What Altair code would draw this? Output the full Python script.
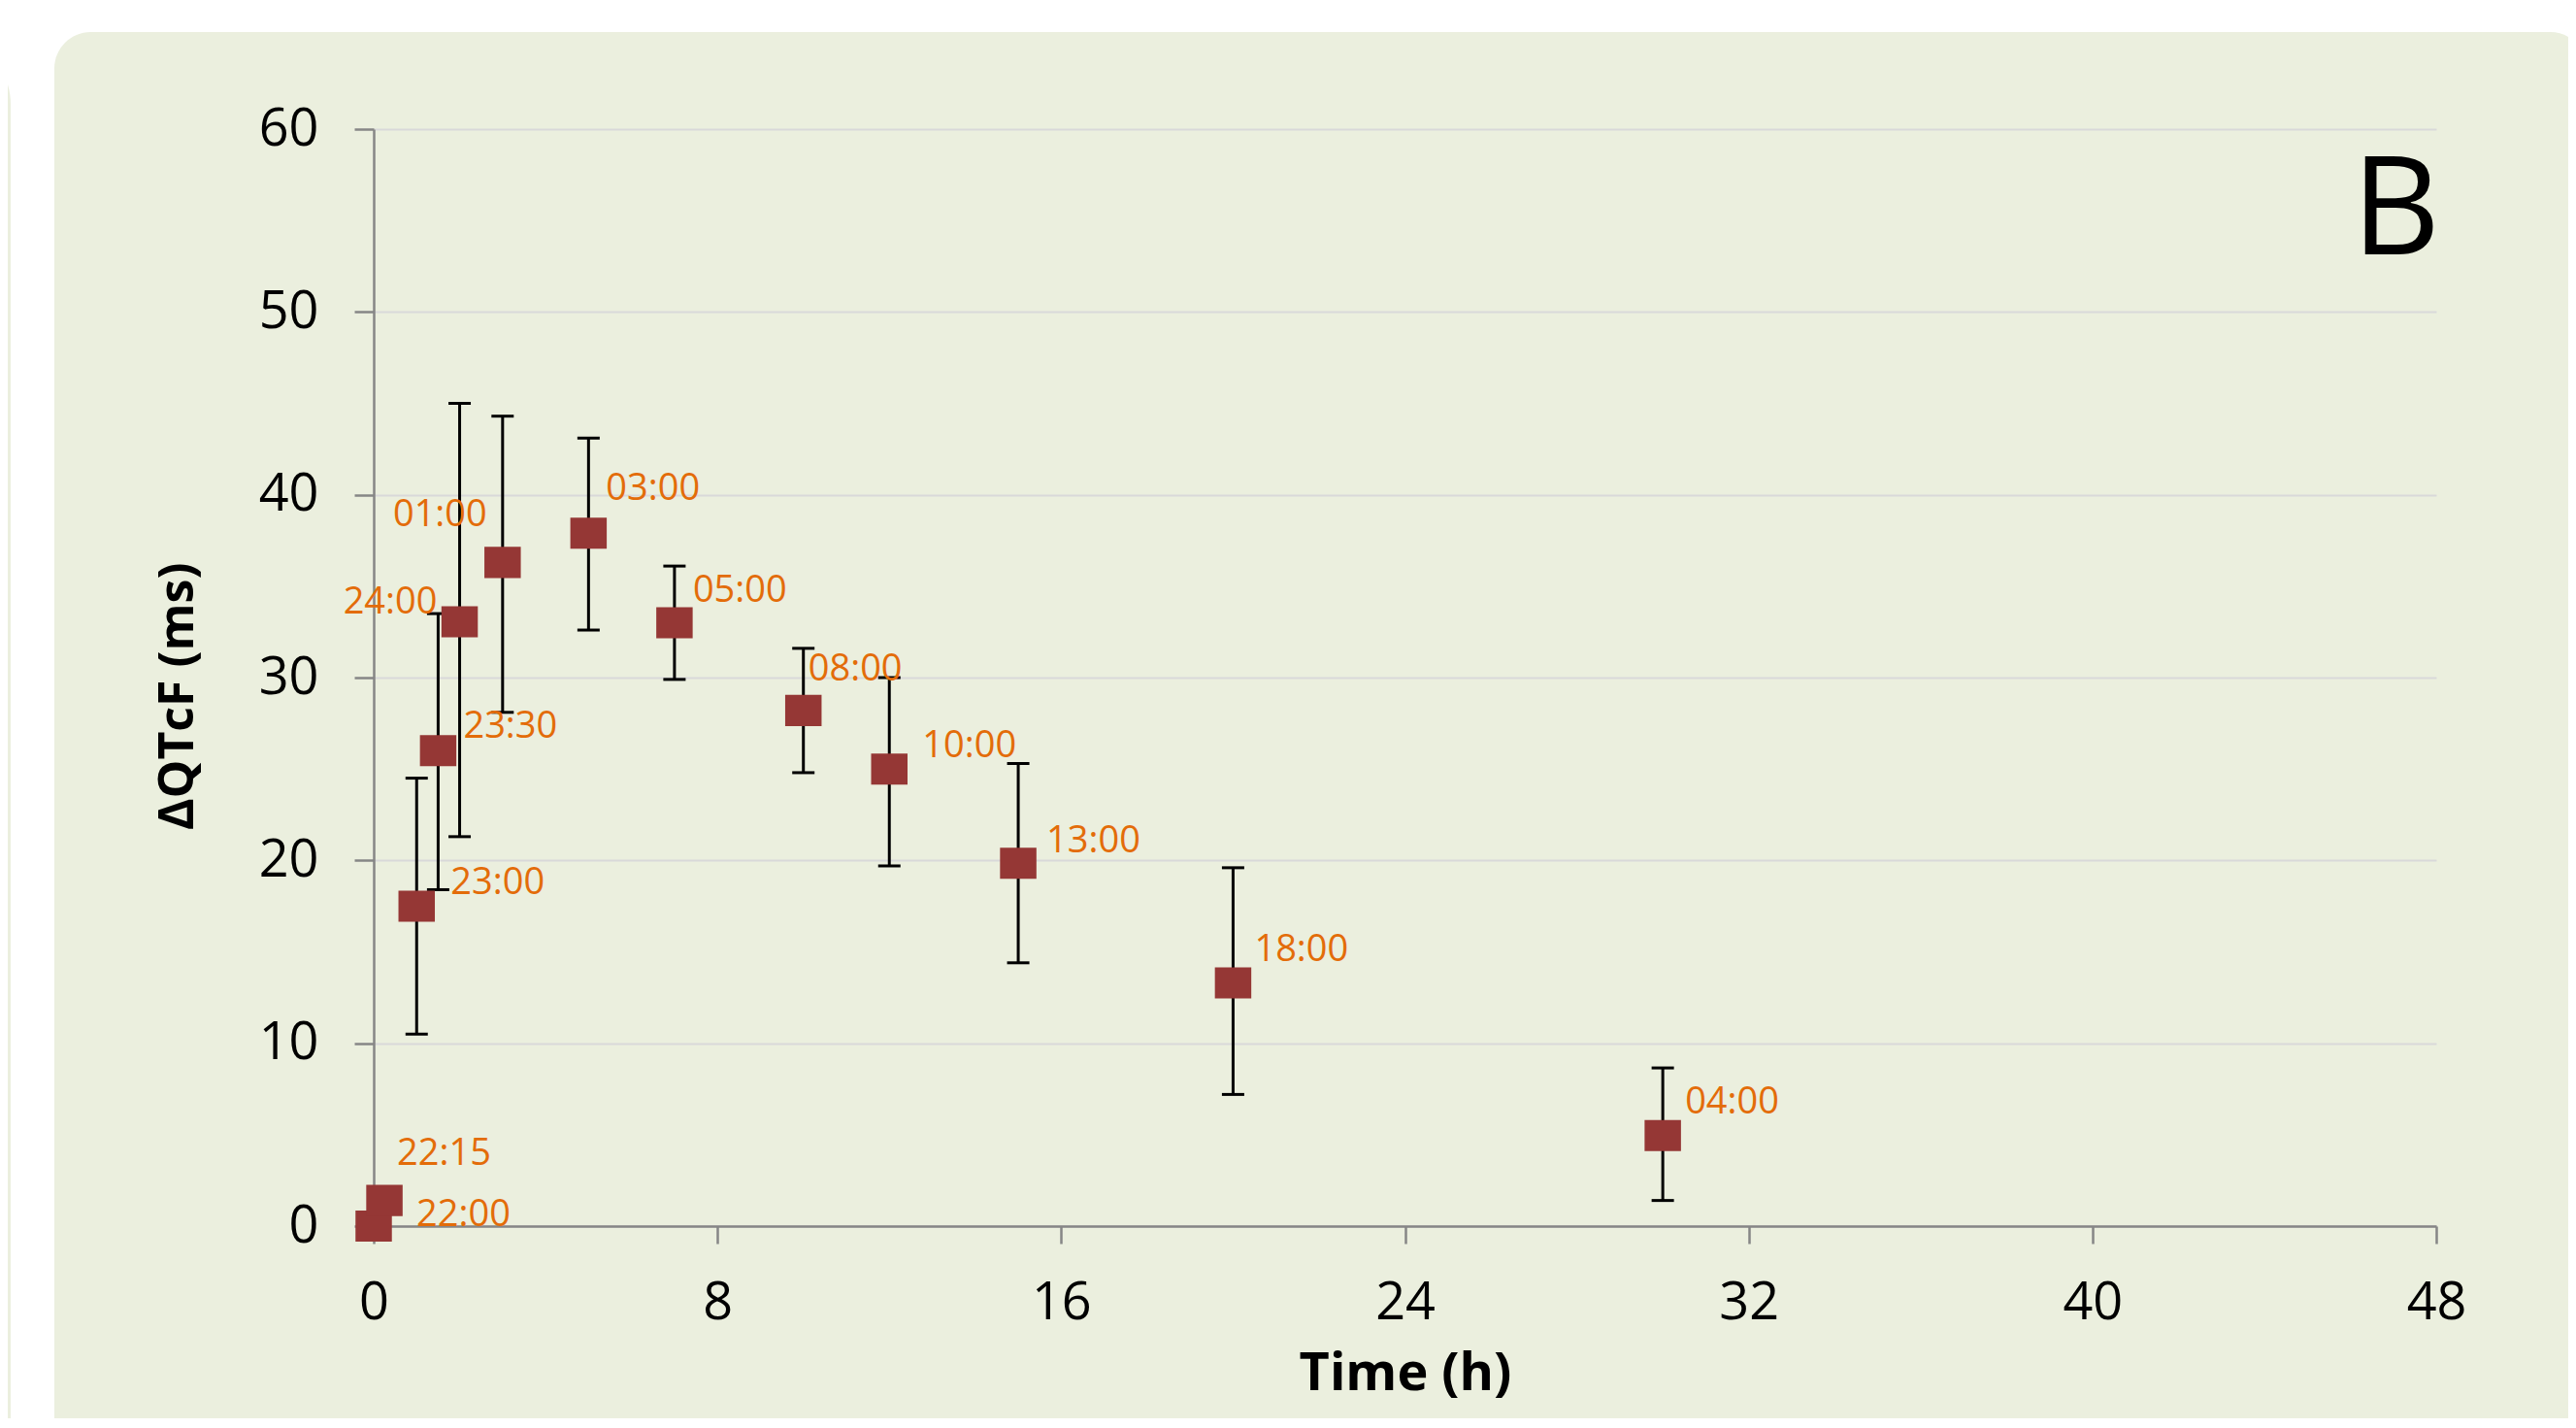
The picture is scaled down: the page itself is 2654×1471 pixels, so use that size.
import altair as alt
import pandas as pd

# ---- data ----
time_h = [0, 0.25, 1, 1.5, 2, 3, 5, 7, 10, 12, 15, 20, 30]
clock = ["22:00", "22:15", "23:00", "23:30", "24:00", "01:00", "03:00",
         "05:00", "08:00", "10:00", "13:00", "18:00", "04:00"]
dqtcf = [0, 1.4, 17.5, 26.0, 33.05, 36.3, 37.9, 33.0, 28.2, 25.0, 19.85, 13.3, 4.95]
err_lo = [None, None, 10.5, 18.4, 21.3, 28.1, 32.6, 29.9, 24.8, 19.7, 14.4, 7.2, 1.4]
err_hi = [None, None, 24.5, 33.5, 45.0, 44.3, 43.1, 36.1, 31.6, 30.0, 25.3, 19.6, 8.65]
x_ticks = [0, 8, 16, 24, 32, 40, 48]
y_ticks = [0, 10, 20, 30, 40, 50, 60]
panel_letter = ["B"]

df = pd.DataFrame({"time": time_h, "clock": clock, "dqtcf": dqtcf,
                   "lo": err_lo, "hi": err_hi})
one = pd.DataFrame({"k": [0]})
letter_df = pd.DataFrame({"letter": panel_letter})

# ---- styles ----
W, H = 2125, 1130
OX, OY = 385, 133          # page position of plot origin
PANEL = "#EBEFDE"
MARKER = "#953735"
LABEL = "#E36C09"
AXIS_GRAY = "#868686"
FONT = "Open Sans"

x_scale = alt.Scale(domain=[0, 48], nice=False, zero=False)
y_scale = alt.Scale(domain=[0, 60], nice=False)

x_axis = alt.Axis(values=x_ticks, title="Time (h)", grid=False,
                  domainColor=AXIS_GRAY, domainWidth=2.5,
                  tickColor=AXIS_GRAY, tickWidth=2.5, tickSize=18,
                  labelFont=FONT, labelFontSize=54, labelColor="black",
                  labelPadding=34, labelFlush=False,
                  titleFont=FONT, titleFontSize=54, titleFontWeight="bold",
                  titleColor="black", titleY=152, titleBaseline="middle")
y_axis = alt.Axis(values=y_ticks, title="ΔQTcF (ms)", grid=True,
                  gridColor="#D9D9D9", gridWidth=2,
                  domainColor=AXIS_GRAY, domainWidth=2.5,
                  tickColor=AXIS_GRAY, tickWidth=2.5, tickSize=20,
                  labelFont=FONT, labelFontSize=54, labelColor="black",
                  labelPadding=37, labelFlush=False,
                  titleFont=FONT, titleFontSize=50, titleFontWeight="bold",
                  titleColor="black", titleAngle=-90, titleX=-202, titleY=584,
                  titleBaseline="middle", titleAlign="center")


def X(field):
    return alt.X(field, type="quantitative", scale=x_scale, axis=x_axis)


def Y(field):
    return alt.Y(field, type="quantitative", scale=y_scale, axis=y_axis)


def deco(px1, px2, py1, py2, color, **kw):
    return alt.Chart(one).mark_rect(color=color, **kw).encode(
        x=alt.value(px1 - OX), x2=alt.value(px2 - OX),
        y=alt.value(py1 - OY), y2=alt.value(py2 - OY))


decor = [
    deco(-200, 2800, -200, 33, "white"),
    deco(-200, 56, -200, 1600, "white"),
    deco(-200, 11, 33, 1600, PANEL, cornerRadiusTopRight=75),
    deco(56, 131, 33, 108, "white"),
    deco(56, 131, 33, 108, PANEL, cornerRadiusTopLeft=75),
    deco(2590, 2800, 33, 108, "white"),
    deco(2590, 2665, 33, 108, PANEL, cornerRadiusTopRight=75),
    deco(2665, 2800, 108, 1600, "white"),
]

base = alt.Chart(df)
valid = base.transform_filter("isValid(datum.lo)")

rules = valid.mark_rule(color="black", strokeWidth=3).encode(
    x=X("time"), y=Y("lo"), y2="hi")
cap_lo = valid.mark_tick(orient="horizontal", size=23, thickness=3,
                         color="black", opacity=1).encode(x=X("time"), y=Y("lo"))
cap_hi = valid.mark_tick(orient="horizontal", size=23, thickness=3,
                         color="black", opacity=1).encode(x=X("time"), y=Y("hi"))

squares = base.mark_point(shape="M-1,-0.855L1,-0.855L1,0.855L-1,0.855Z",
                          filled=True, size=1406, color=MARKER, opacity=1,
                          strokeWidth=0).encode(x=X("time"), y=Y("dqtcf"))

# label placement (offsets in pixels, alignment)
label_style = {
    "22:00": ("left", 44, -11),
    "22:15": ("left", 13, -48),
    "23:00": ("left", 35, -23),
    "23:30": ("left", 26, -24),
    "24:00": ("right", -23, -20),
    "01:00": ("right", -16, -48),
    "03:00": ("left", 18, -45),
    "05:00": ("left", 19, -33),
    "08:00": ("left", 5, -42),
    "10:00": ("left", 34, -23),
    "13:00": ("left", 29, -22),
    "18:00": ("left", 22, -34),
    "04:00": ("left", 23, -34),
}
labels = []
for lab in clock:
    al, ddx, ddy = label_style[lab]
    labels.append(
        base.transform_filter(alt.datum.clock == lab).mark_text(
            align=al, baseline="middle", dx=ddx, dy=ddy,
            font=FONT, fontSize=38, color=LABEL
        ).encode(x=X("time"), y=Y("dqtcf"), text="clock:N")
    )

letter = alt.Chart(letter_df).mark_text(
    align="right", baseline="alphabetic", font=FONT, fontSize=141, color="black"
).encode(x=alt.value(2129), y=alt.value(129), text="letter:N")

chart = alt.layer(*decor, rules, cap_lo, cap_hi, squares, *labels, letter).properties(
    width=W, height=H,
    autosize=alt.AutoSizeParams(type="none"),
    padding={"left": 377, "top": 125, "right": 136, "bottom": 198},
    background=PANEL,
).configure_view(strokeWidth=0)

chart.save("out.html", embed_options={"renderer": "svg", "actions": False})
